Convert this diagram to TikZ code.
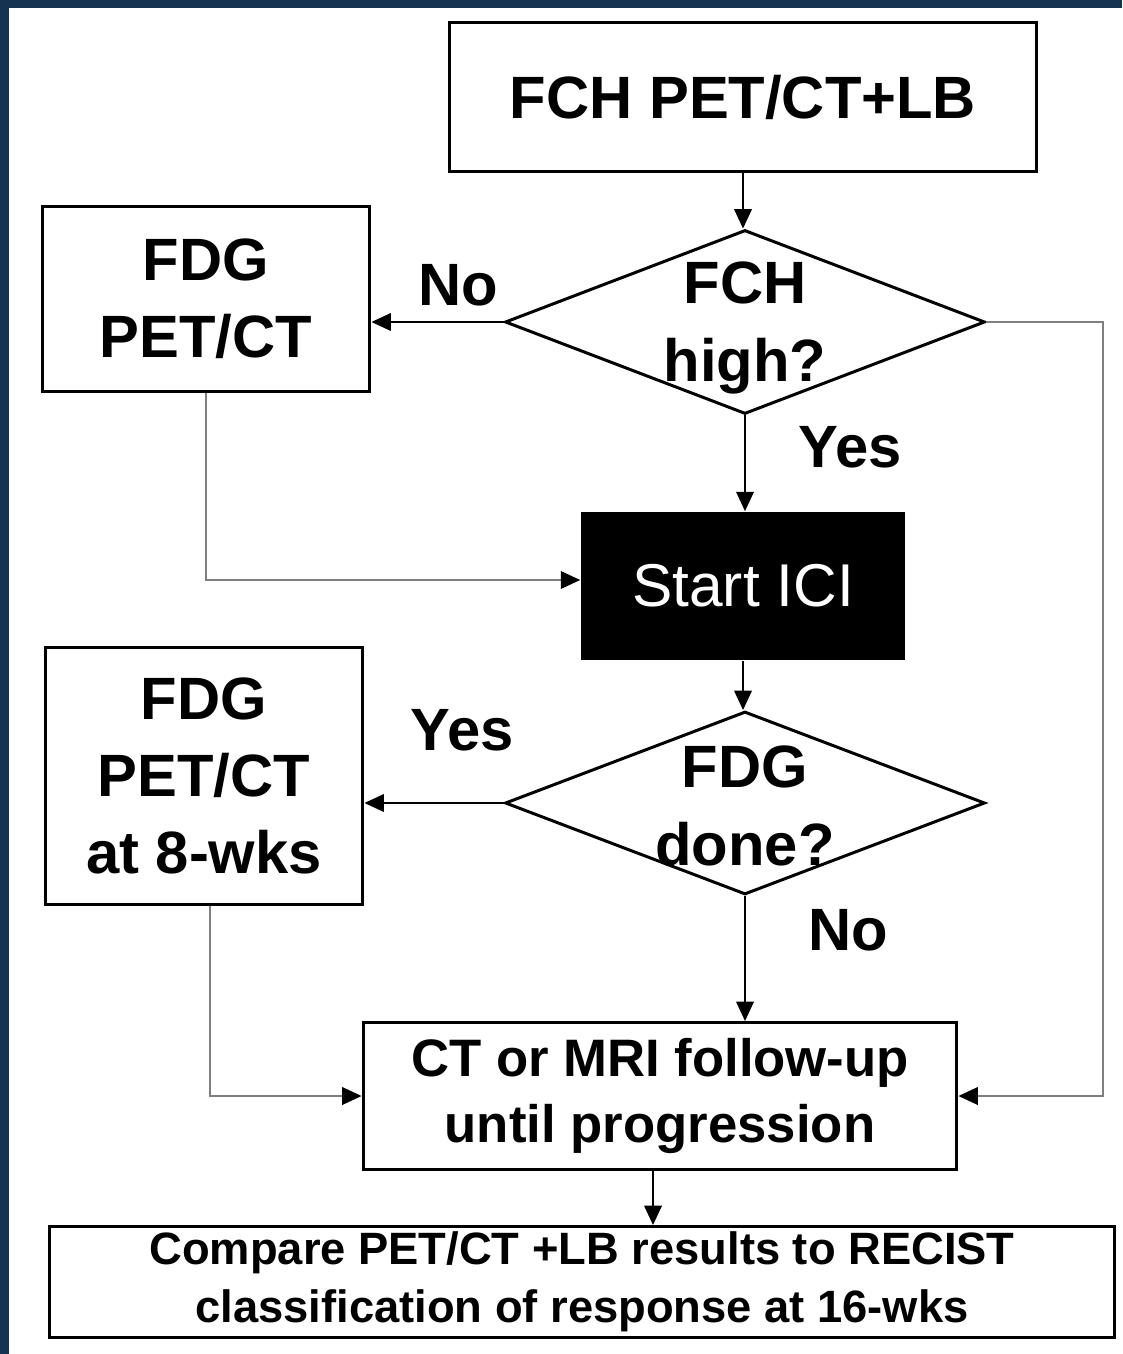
\documentclass[tikz,border=0pt]{standalone}
\usepackage{fontspec}
\setmainfont{Liberation Sans}
\usetikzlibrary{shapes.geometric,arrows.meta}
\definecolor{frame_navy}{HTML}{163452}
\definecolor{rail_gray}{HTML}{7F7F7F}
\begin{document}
\begin{tikzpicture}[
       x=0.02cm, y=-0.02cm,
       box_style/.style={draw, black, line width=1.7pt, fill=white, align=center, inner sep=0pt,
                         font=\bfseries\fontsize{34}{44}\selectfont}, % 方框样式:黑色粗边框
       decision_style/.style={draw, black, line width=1.7pt, diamond, inner sep=0pt}, % 菱形判断框
       start_style/.style={fill=black, text=white, inner sep=0pt,
                           font=\fontsize{34.4}{44}\selectfont}, % 黑底白字
       arrow_style/.style={draw, black, line width=0.9pt, -{Triangle[length=11pt, width=10pt]}}, % 黑色箭头
       rail_style/.style={draw, rail_gray, line width=0.9pt, -{Triangle[length=11pt, width=10pt, color=black]}}, % 灰线黑箭头
       answer_style/.style={font=\bfseries\fontsize{34}{44}\selectfont} % Yes/No 标注
   ]

   % 0. 背景:深蓝边框与白色底
   \useasboundingbox (0,0) rectangle (1122,1354);
   \fill[frame_navy] (0,0) rectangle (1122,1354);
   \fill[white] (9,8) rectangle (1122,1354);

   % 1. 顶部方框
   \node[box_style, minimum width=11.74cm, minimum height=3cm] (fch_box) at (743,97) {FCH PET/CT+LB};

   % 2. 第一个判断:FCH high?
   \node[decision_style, minimum width=9.6cm, minimum height=3.68cm] (fch_high) at (745,322) {};
   \node[answer_style, align=center] (fch_high_text) at (745,328) {FCH\\high?};

   % 3. 左侧 FDG PET/CT
   \node[box_style, minimum width=6.56cm, minimum height=3.72cm] (fdg_box) at (206,299) {FDG\\PET/CT};

   % 4. Start ICI
   \node[start_style, minimum width=6.5cm, minimum height=2.98cm] (start_ici) at (743,586) {Start ICI};

   % 5. 第二个判断:FDG done?
   \node[decision_style, minimum width=9.6cm, minimum height=3.66cm] (fdg_done) at (745,803) {};
   \node[answer_style, align=center] (fdg_done_text) at (745,806) {FDG\\done?};

   % 6. 8 周时的 FDG PET/CT
   \node[box_style, minimum width=6.36cm, minimum height=5.16cm] (fdg_week_box) at (204,776) {FDG\\PET/CT\\at 8-wks};

   % 7. CT 或 MRI 随访
   \node[box_style, minimum width=11.88cm, minimum height=2.94cm,
         font=\bfseries\fontsize{30}{38}\selectfont] (ct_box) at (660,1096) {CT or MRI follow-up\\until progression};

   % 8. 底部比较框
   \node[box_style, minimum width=21.3cm, minimum height=2.22cm,
         font=\bfseries\fontsize{25.8}{33}\selectfont] (compare_box) at (582,1282)
         {Compare PET/CT +LB results to RECIST\\classification of response at 16-wks};

   % 9. 连线
   \coordinate (right_rail) at (1103,320);
   \draw[arrow_style] (fch_box.south) -- (fch_box.south |- fch_high.north);
   \draw[arrow_style] (fch_high.west) -- (fch_high.west -| fdg_box.east);
   \draw[rail_style] (fch_high.east) -- (fch_high.east -| right_rail) |- (ct_box.east);
   \draw[arrow_style] (fch_high.south) -- (fch_high.south |- start_ici.north);
   \draw[rail_style] (fdg_box.south) |- ([yshift=0.12cm]start_ici.west);
   \draw[arrow_style] (start_ici.south) -- (start_ici.south |- fdg_done.north);
   \draw[arrow_style] (fdg_done.west) -- (fdg_done.west -| fdg_week_box.east);
   \draw[arrow_style] (fdg_done.south) -- (fdg_done.south |- ct_box.north);
   \draw[rail_style] ([xshift=0.12cm]fdg_week_box.south) |- (ct_box.west);
   \draw[arrow_style] ([xshift=-0.14cm]ct_box.south) -- ([xshift=-0.14cm]ct_box.south |- compare_box.north);

   % 10. Yes / No 标注
   \node[answer_style] (no_one) at (458,285) {No};
   \node[answer_style] (yes_one) at (850,447) {Yes};
   \node[answer_style] (yes_two) at (462,730) {Yes};
   \node[answer_style] (no_two) at (848,930) {No};

   \end{tikzpicture}
\end{document}
